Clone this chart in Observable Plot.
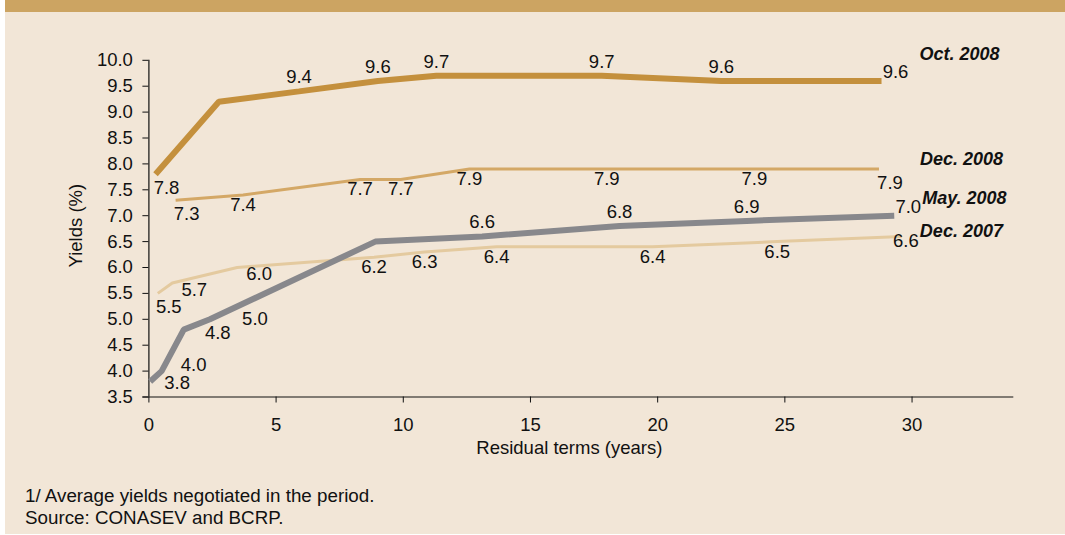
<!DOCTYPE html>
<html>
<head>
<meta charset="utf-8">
<script src="https://cdn.jsdelivr.net/npm/d3@7"></script>
<script src="https://cdn.jsdelivr.net/npm/@observablehq/plot@0.6"></script>
<style>
  html, body { margin: 0; padding: 0; background: #ffffff; }
  #panel { position: absolute; left: 5px; top: 0; width: 1060px; height: 534px; background: #F2E6D7; }
  #band { position: absolute; left: 0; top: 0; width: 100%; height: 12px; background: #CCA462; }
  #chart { position: absolute; left: 0; top: 0; }
  #notes { position: absolute; left: 25px; top: 485px; font: 18.8px "Liberation Sans", Arial, sans-serif;
           line-height: 22px; color: #111; }
</style>
</head>
<body>
<div id="panel"><div id="band"></div></div>
<div id="chart"></div>
<div id="notes">1/ Average yields negotiated in the period.<br>Source: CONASEV and BCRP.</div>
<script>
// Sovereign bond yield curves: residual term (years) vs. yield (%)
const seriesNames = ["Dec. 2007", "Dec. 2008", "May. 2008", "Oct. 2008"];

const termsOct08  = [0.26, 2.75, 5.9, 9.0, 11.3, 17.8, 22.5, 28.8];
const yieldsOct08 = [7.8, 9.2, 9.4, 9.6, 9.7, 9.7, 9.6, 9.6];

const termsDec08  = [1.05, 3.7, 8.3, 9.9, 12.6, 18.0, 23.8, 28.7];
const yieldsDec08 = [7.3, 7.4, 7.7, 7.7, 7.9, 7.9, 7.9, 7.9];

const termsMay08  = [0.05, 0.5, 1.37, 2.4, 8.9, 13.1, 18.5, 23.5, 29.3];
const yieldsMay08 = [3.8, 4.0, 4.8, 5.0, 6.5, 6.6, 6.8, 6.9, 7.0];

const termsDec07  = [0.35, 0.92, 3.47, 8.85, 10.84, 13.67, 19.8, 24.7, 29.6];
const yieldsDec07 = [5.5, 5.7, 6.0, 6.2, 6.3, 6.4, 6.4, 6.5, 6.6];

const xTicks = [0, 5, 10, 15, 20, 25, 30];
const yTicks = [3.5, 4.0, 4.5, 5.0, 5.5, 6.0, 6.5, 7.0, 7.5, 8.0, 8.5, 9.0, 9.5, 10.0];

// Where each value label sits relative to its point ("" = not labelled)
const labelPlacement = {
  "Oct. 2008": ["se", "", "n", "n", "n", "n", "n", "ne"],
  "Dec. 2008": ["se", "s", "s", "s", "s", "s", "s", "se"],
  "May. 2008": ["e", "ene", "ese", "far", "", "n", "n", "n", "ne"],
  "Dec. 2007": ["se", "es", "es", "s", "s", "s", "s", "s", "end"]
};
const placementOffsets = {
  n: [0, -14], s: [0, 10], se: [11, 14], es: [22, 7], ne: [14, -9], end: [4, 5],
  e: [27, 2], ene: [32, -6], ese: [34, 3], far: [45, 0]
};

const seriesStyle = {
  "Dec. 2007": {stroke: "#E4CA9F", width: 3, nameDx: 18, nameDy: -5},
  "Dec. 2008": {stroke: "#D4A866", width: 3, nameDx: 41, nameDy: -10},
  "May. 2008": {stroke: "#88888C", width: 6, nameDx: 28, nameDy: -17},
  "Oct. 2008": {stroke: "#C4903D", width: 6, nameDx: 38, nameDy: -27}
};

const seriesData = {
  "Oct. 2008": [termsOct08, yieldsOct08],
  "Dec. 2008": [termsDec08, yieldsDec08],
  "May. 2008": [termsMay08, yieldsMay08],
  "Dec. 2007": [termsDec07, yieldsDec07]
};

const rows = seriesNames.flatMap(name => {
  const [terms, yields] = seriesData[name];
  return terms.map((t, i) => ({series: name, term: t, yld: yields[i], place: labelPlacement[name][i]}));
});

const font = "'Liberation Sans', Arial, Helvetica, sans-serif";
const fmt = d3.format(".1f");
const fs = 18.5;

const lineMarks = seriesNames.map(name => Plot.line(rows.filter(d => d.series === name), {
  x: "term", y: "yld",
  stroke: seriesStyle[name].stroke,
  strokeWidth: seriesStyle[name].width,
  strokeLinejoin: "miter", strokeLinecap: "butt"
}));

const valueLabelMarks = Object.entries(placementOffsets).map(([code, [dx, dy]]) =>
  Plot.text(rows.filter(d => d.place === code), {
    x: "term", y: "yld", text: d => fmt(d.yld),
    dx, dy, fontSize: fs, fill: "#111", textAnchor: "middle", lineAnchor: "middle"
  }));

const nameMarks = seriesNames.map(name => {
  const pts = rows.filter(d => d.series === name);
  return Plot.text([pts[pts.length - 1]], {
    x: "term", y: "yld", text: () => name,
    dx: seriesStyle[name].nameDx, dy: seriesStyle[name].nameDy,
    textAnchor: "start", lineAnchor: "middle",
    fontSize: 18, fontWeight: "bold", fontStyle: "italic", fill: "#111"
  });
});

const chart = Plot.plot({
  width: 1065,
  height: 470,
  marginLeft: 148.4,
  marginRight: 51.7,
  marginTop: 59.8,
  marginBottom: 73.5,
  x: {domain: [0, 34]},
  y: {domain: [3.5, 10]},
  style: {background: "transparent", fontFamily: font, fontSize: fs + "px", color: "#111", overflow: "visible"},
  marks: [
    Plot.axisY({ticks: yTicks, tickSize: 6, tickPadding: 10, tickFormat: fmt, label: null, fontSize: fs}),
    Plot.axisX({ticks: xTicks, tickSize: 6, tickPadding: 15, tickFormat: d3.format("d"), label: null, fontSize: fs}),
    Plot.ruleX([0], {stroke: "#111", strokeWidth: 1.2}),
    Plot.ruleY([3.5], {stroke: "#111", strokeWidth: 1.2, insetLeft: -6}),
    Plot.text(["Residual terms (years)"], {frameAnchor: "bottom", dx: -12, dy: 51.5, fontSize: fs, fill: "#111",
      textAnchor: "middle", lineAnchor: "middle"}),
    Plot.text(["Yields (%)"], {frameAnchor: "left", rotate: -90, dx: -73, dy: -3, fontSize: fs, fill: "#111",
      textAnchor: "middle", lineAnchor: "middle"}),
    ...lineMarks,
    ...valueLabelMarks,
    ...nameMarks
  ]
});

document.getElementById("chart").appendChild(chart);
</script>
</body>
</html>
